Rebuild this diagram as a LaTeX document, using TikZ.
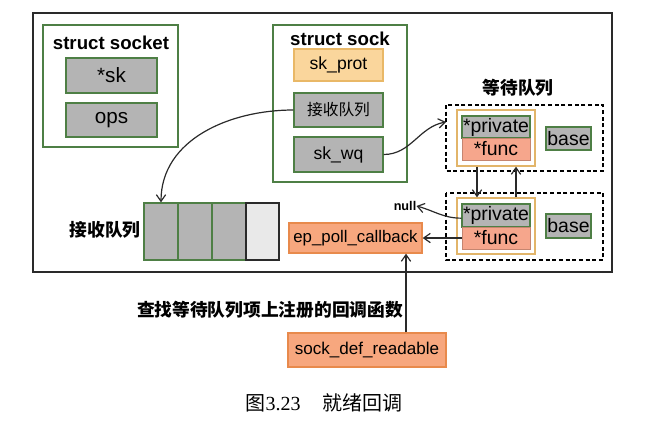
\documentclass[tikz,border=0pt]{standalone}
\usepackage{fontspec}
\setmainfont{Liberation Serif}
\newfontfamily\lsans{Liberation Sans}
\newfontfamily\cjk{Noto Sans CJK SC}
\usetikzlibrary{arrows.meta}
\definecolor{gfill}{HTML}{B4B4B4}
\definecolor{gline}{HTML}{4E7F45}
\definecolor{lfill}{HTML}{E9E9E9}
\definecolor{pfill}{HTML}{FAD69C}
\definecolor{pline}{HTML}{E9B867}
\definecolor{ofill}{HTML}{F7A77E}
\definecolor{oline}{HTML}{E88A4C}
\definecolor{ffill}{HTML}{F6A68C}
\definecolor{cline}{HTML}{E2B56A}
\definecolor{dk}{HTML}{2A2A2A}
\tikzset{
  px/.style={x=0.75pt,y=-0.75pt},
  lbl/.style={font=\lsans\fontsize{13.2}{15}\selectfont, inner sep=0pt, text=black},
  big/.style={font=\lsans\fontsize{14.6}{16}\selectfont},
  gbox/.style={lbl, draw=gline, fill=gfill, line width=1pt},
  pbox/.style={lbl, draw=pline, fill=pfill, line width=1pt},
  obox/.style={lbl, draw=oline, fill=ofill, line width=1pt},
  fbox/.style={lbl, draw=ffill!80!black, fill=ffill, line width=0.6pt},
  title/.style={font=\lsans\bfseries\fontsize{14}{16}\selectfont, inner sep=0pt},
  ctitle/.style={font=\cjk\bfseries\fontsize{13.3}{15}\selectfont, inner sep=0pt},
  frame/.style={draw=gline, line width=0.9pt},
  conn/.style={draw=dk, line width=0.9pt, -{Straight Barb[length=5pt,width=7pt]}},
}
\begin{document}
\begin{tikzpicture}[px]
\useasboundingbox (0,0) rectangle (666,429);
% outer frame
\draw[dk, line width=0.9pt] (33,13) rectangle (612,272);
% struct socket
\draw[frame] (43,25) rectangle (178,147);
\node[title] (t1) at (111,43) {struct socket};
\node[gbox, big, font=\lsans\fontsize{15.5}{17}\selectfont, minimum width=68.25pt, minimum height=26.25pt] (sk) at (111.5,75.5) {*sk};
\node[gbox, font=\lsans\fontsize{15.5}{17}\selectfont, minimum width=68.25pt, minimum height=25.5pt] (ops) at (111.5,120) {ops};
% struct sock
\draw[frame] (273,25) rectangle (407,182);
\node[title] (t2) at (340,39) {struct sock};
\node[pbox, minimum width=66.75pt, minimum height=24pt] (skprot) at (338.5,65) {sk\_prot};
\node[gbox, minimum width=66.75pt, minimum height=25.5pt, font=\cjk\fontsize{11.8}{13}\selectfont] (rq) at (338.5,110) {接收队列};
\node[gbox, minimum width=66.75pt, minimum height=26.25pt] (skwq) at (338.5,154.5) {sk\_wq};
% receive queue
\node[ctitle] (qlbl) at (105,230) {接收队列};
\node[gbox, minimum width=25.5pt, minimum height=42.75pt] (q1) at (161,231.5) {};
\node[gbox, minimum width=25.5pt, minimum height=42.75pt] (q2) at (195,231.5) {};
\node[gbox, minimum width=25.5pt, minimum height=42.75pt] (q3) at (229,231.5) {};
\node[lbl, draw=dk, fill=lfill, line width=0.8pt, minimum width=24.75pt, minimum height=42.75pt] (q4) at (262.5,231.5) {};
% ep_poll_callback
\node[obox, font=\lsans\fontsize{12.6}{14}\selectfont, minimum width=99.75pt, minimum height=22.5pt] (epcb) at (355.5,238) {ep\_poll\_callback};
\node[font=\lsans\bfseries\fontsize{9.5}{11}\selectfont, inner sep=0pt] (null) at (405,206) {null};
% wait queue
\node[ctitle] (wqt) at (518,88) {等待队列};
\draw[black, dashed, line width=0.9pt, dash pattern=on 3pt off 2pt] (446,105) rectangle (603,171);
\draw[black, dashed, line width=0.9pt, dash pattern=on 3pt off 2pt] (446,193) rectangle (603,260);
\node[draw=cline, line width=1pt, minimum width=58.5pt, minimum height=42pt, inner sep=0pt] (c1) at (496,138) {};
\node[draw=cline, line width=1pt, minimum width=58.5pt, minimum height=42pt, inner sep=0pt] (c2) at (496,226) {};
\node[gbox, big, minimum width=51pt, minimum height=16.5pt] (p1) at (496,127) {*private};
\node[fbox, big, minimum width=51pt, minimum height=16.5pt] (f1) at (496,149) {*func};
\node[gbox, big, minimum width=33.75pt, minimum height=17.25pt] (b1) at (568.5,138.5) {base};
\node[gbox, big, minimum width=51pt, minimum height=17.25pt] (p2) at (496,215.5) {*private};
\node[fbox, big, minimum width=51pt, minimum height=16.5pt] (f2) at (496,238) {*func};
\node[gbox, big, minimum width=33.75pt, minimum height=18pt] (b2) at (568.5,226) {base};
\coordinate (d1w) at (446,122);
% bottom
\node[ctitle] (find) at (270,310) {查找等待队列项上注册的回调函数};
\node[obox, font=\lsans\fontsize{12.8}{14}\selectfont, minimum width=118.5pt, minimum height=25.5pt] (sdr) at (367,350) {sock\_def\_readable};
\node[inner sep=0pt, font=\fontsize{15}{17}\selectfont] (cap) at (324,403) {{\cjk 图}3.23\hspace{1.1em}{\cjk 就绪回调}};
% connectors
\draw[conn] (rq.west) to[out=180, in=90] (q1.north);
\draw[conn] (skwq.east) to[out=0, in=190] (d1w);
\draw[conn] ([xshift=-14.25pt]c1.south) -- ([xshift=-14.25pt]c2.north);
\draw[conn] ([xshift=15pt]c2.north) -- ([xshift=15pt]c1.south);
\draw[conn] ([yshift=-2pt]p2.west) to[out=180, in=-15] (null.east);
\draw[conn] (f2.west) -- (epcb.east);
\draw[conn] ([xshift=29.25pt]sdr.north) -- ([xshift=37.875pt]epcb.south);
\end{tikzpicture}
\end{document}
